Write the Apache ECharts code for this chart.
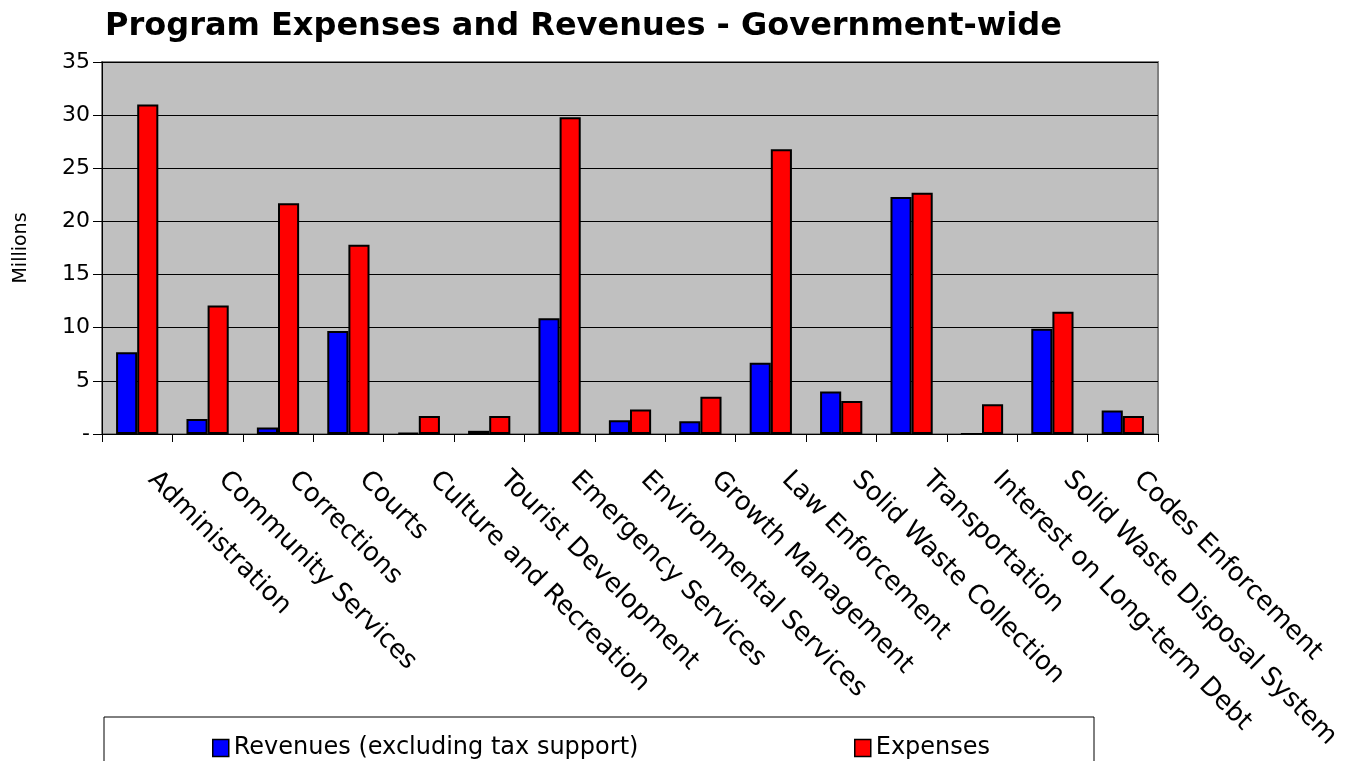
<!DOCTYPE html>
<html><head><meta charset="utf-8">
<script src="https://cdn.jsdelivr.net/npm/echarts@6/dist/echarts.min.js"></script>
<style>html,body{margin:0;padding:0;background:#fff}#c{width:1356px;height:761px}</style>
</head><body><div id="c"></div>
<script>
var categories = ["Administration","Community Services","Corrections","Courts","Culture and Recreation","Tourist Development","Emergency Services","Environmental Services","Growth Management","Law Enforcement","Solid Waste Collection","Transportation","Interest on Long-term Debt","Solid Waste Disposal System","Codes Enforcement"];
var revenues = [7.7, 1.4, 0.6, 9.7, 0.1, 0.3, 10.9, 1.3, 1.2, 6.7, 4.0, 22.3, 0, 9.9, 2.2];
var expenses = [31.0, 12.1, 21.7, 17.8, 1.7, 1.7, 29.8, 2.3, 3.5, 26.8, 3.1, 22.7, 2.8, 11.5, 1.7];
var yTicks = {min: 0, max: 35, interval: 5};

var chart = echarts.init(document.getElementById('c'));
var font = 'DejaVu Sans, Verdana, sans-serif';
chart.setOption({
  animation: false,
  title: {text: 'Program Expenses and Revenues - Government-wide', left: 100, top: 6,
    textStyle: {fontFamily: font, fontWeight: 'bold', fontSize: 32, color: '#000'}},
  graphic: [{type: 'rect', shape: {x: 104, y: 717, width: 990, height: 60},
    style: {fill: '#fff', stroke: '#000', lineWidth: 1}, silent: true}],
  legend: [
    {data: ['Revenues (excluding tax support)'], left: 207, top: 731, itemWidth: 16, itemHeight: 17, itemGap: 4,
     icon: 'rect',
     textStyle: {fontFamily: font, fontSize: 24, color: '#000'},
     itemStyle: {borderColor: '#000', borderWidth: 1.5}},
    {data: ['Expenses'], left: 849, top: 731, itemWidth: 16, itemHeight: 17, itemGap: 4,
     icon: 'rect',
     textStyle: {fontFamily: font, fontSize: 24, color: '#000'},
     itemStyle: {borderColor: '#000', borderWidth: 1.5}}
  ],
  grid: {left: 102, right: 198, top: 62, bottom: 327, outerBoundsMode: 'none', containLabel: false,
    backgroundColor: '#C0C0C0', show: true, borderColor: '#808080', borderWidth: 2},
  xAxis: {type: 'category', data: categories,
    axisLine: {lineStyle: {color: '#000', width: 1}},
    axisTick: {show: true, length: 8, alignWithLabel: false, lineStyle: {color: '#000'}},
    axisLabel: {rotate: -45, interval: 0, margin: 27, padding: [0, 0, 0, 21], fontFamily: font, fontSize: 26, color: '#000'}},
  yAxis: {type: 'value', min: yTicks.min, max: yTicks.max, interval: yTicks.interval,
    name: 'Millions', nameLocation: 'middle', nameGap: 71, nameRotate: 90,
    nameTextStyle: {fontFamily: font, fontSize: 19, color: '#000'},
    axisLine: {show: true, lineStyle: {color: '#000'}},
    axisTick: {show: true, length: 9, lineStyle: {color: '#000'}},
    splitLine: {show: true, lineStyle: {color: '#000', width: 1}},
    axisLabel: {fontFamily: font, fontSize: 22, color: '#000', margin: 12,
      formatter: function(v){ return v === 0 ? '-' : String(v); }}},
  series: [
    {name: 'Revenues (excluding tax support)', type: 'bar', data: revenues, barGap: '0%', barCategoryGap: '40%',
     itemStyle: {color: '#0000FF', borderColor: '#000', borderWidth: 2}},
    {name: 'Expenses', type: 'bar', data: expenses,
     itemStyle: {color: '#FF0000', borderColor: '#000', borderWidth: 2}}
  ]
});
</script></body></html>
